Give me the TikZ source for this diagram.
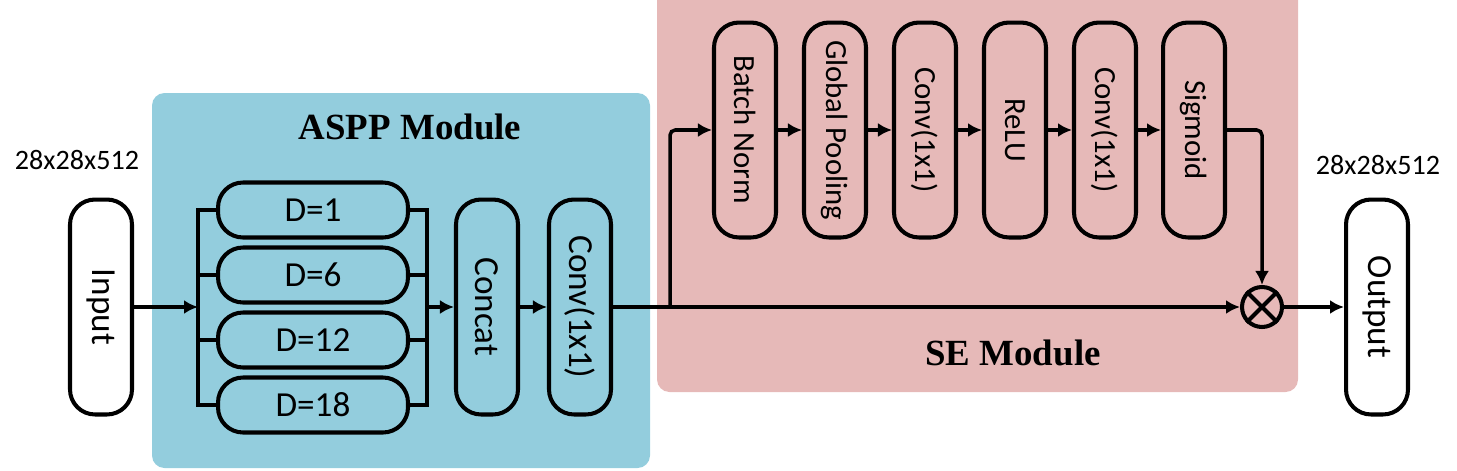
\documentclass[tikz,border=0pt]{standalone}
\usepackage{fontspec}
\setmainfont{Carlito}
\newfontfamily\headfont{Liberation Serif}
\usetikzlibrary{arrows.meta}
\definecolor{asppblue}{RGB}{147,205,221}
\definecolor{sepink}{RGB}{230,185,184}

\begin{document}
\begin{tikzpicture}[x=0.02cm, y=-0.02cm,
  blk/.style={draw, line width=2.3pt, rounded corners=0.5cm, minimum width=1.24cm, minimum height=4.3cm, inner sep=0pt, font=\fontsize{20}{24}\selectfont},
  seblk/.style={blk, font=\fontsize{17.5}{21}\selectfont},
  dblk/.style={draw, line width=2.3pt, rounded corners=0.5cm, minimum width=3.8cm, minimum height=1.1cm, inner sep=0pt, font=\fontsize{20}{24}\selectfont},
  wire/.style={line width=2pt},
  arr/.style={wire, -{Latex[length=0.28cm,width=0.28cm]}},
  dims/.style={font=\fontsize{16}{19}\selectfont},
  title/.style={font=\headfont\bfseries\fontsize{21}{25}\selectfont}]
\useasboundingbox (0,0) rectangle (1457,470);
\clip (0,0) rectangle (1457,470);
% module backgrounds
\fill[asppblue, rounded corners=0.25cm] (152,93) rectangle (650,468);
\fill[sepink, rounded corners=0.25cm] (657,-15) rectangle (1298,392);
\node[title] (asppt) at (410,127) {ASPP Module};
\node[title] (set) at (1013,353) {SE Module};
\node[dims] (dimin) at (77,160) {28x28x512};
\node[dims] (dimout) at (1378,165) {28x28x512};
% input and ASPP
\node[blk] (in) at (101,307) {\rotatebox{-90}{Input}};
\node[dblk] (d1) at (313,210) {D=1};
\node[dblk] (d6) at (313,275) {D=6};
\node[dblk] (d12) at (313,340) {D=12};
\node[dblk] (d18) at (313,405) {D=18};
\node[blk] (cat) at (487,307) {\rotatebox{-90}{Concat}};
\node[blk] (conv) at (580,307) {\rotatebox{-90}{Conv(1x1)}};
% SE
\node[seblk] (bn) at (745,130) {\rotatebox{-90}{Batch Norm}};
\node[seblk] (gp) at (835,130) {\rotatebox{-90}{Global Pooling}};
\node[seblk] (c2) at (925,130) {\rotatebox{-90}{Conv(1x1)}};
\node[seblk] (relu) at (1015,130) {\rotatebox{-90}{ReLU}};
\node[seblk] (c3) at (1105,130) {\rotatebox{-90}{Conv(1x1)}};
\node[seblk] (sig) at (1194,130) {\rotatebox{-90}{Sigmoid}};
\node[circle, draw, line width=2.3pt, minimum size=0.8cm, inner sep=0pt] (mul) at (1262,307) {};
\draw[line width=2.3pt] (mul.north west) -- (mul.south east) (mul.north east) -- (mul.south west);
\node[blk] (out) at (1377,307) {\rotatebox{-90}{Output}};
% connectors
\coordinate (busl) at (198,307);
\coordinate (busr) at (427,307);
\coordinate (split) at (670,307);
\draw[arr] (in.east) -- (busl);
\draw[wire] (d1.west) -| (busl) |- (d18.west);
\draw[wire] (d6.west) -| (busl);
\draw[wire] (d12.west) -| (busl);
\draw[wire] (d1.east) -| (busr) |- (d18.east);
\draw[wire] (d6.east) -| (busr);
\draw[wire] (d12.east) -| (busr);
\draw[arr] (busr) -- (cat.west);
\draw[arr] (cat.east) -- (conv.west);
\draw[arr] (conv.east) -- (mul.west);
\draw[arr, rounded corners=3pt] (split) |- (bn.west);
\foreach \a/\b in {bn/gp, gp/c2, c2/relu, relu/c3, c3/sig}
  \draw[arr] (\a.east) -- (\b.west);
\draw[arr, rounded corners=3pt] (sig.east) -| (mul.north);
\draw[arr] (mul.east) -- (out.west);
\end{tikzpicture}
\end{document}
